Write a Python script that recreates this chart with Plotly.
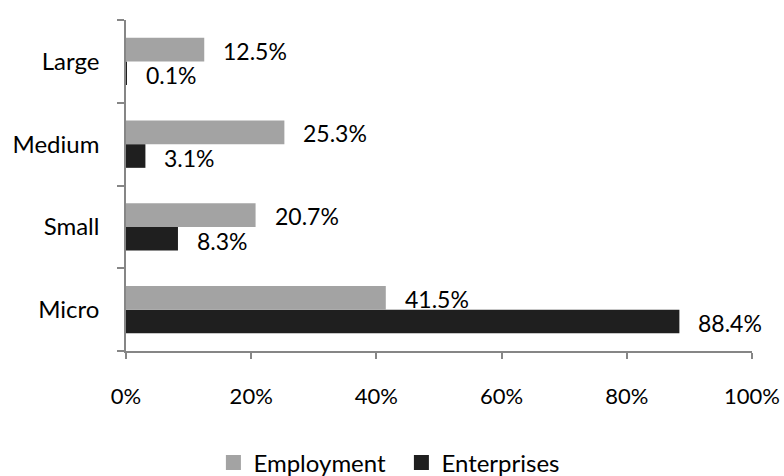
import plotly.graph_objects as go

categories = ["Micro", "Small", "Medium", "Large"]
employment = [41.5, 20.7, 25.3, 12.5]
enterprises = [88.4, 8.3, 3.1, 0.1]
x_ticks = [0, 20, 40, 60, 80, 100]
x_tick_labels = ["0%", "20%", "40%", "60%", "80%", "100%"]

FONT = "Lato, 'Open Sans', sans-serif"
AXIS_COLOR = "#868686"
EMP_COLOR = "#a3a3a3"
ENT_COLOR = "#1f1f1f"

fig = go.Figure()
fig.add_trace(go.Bar(
    y=categories, x=enterprises, orientation="h", name="Enterprises",
    marker=dict(color=ENT_COLOR, line=dict(width=0)), showlegend=False,
))
fig.add_trace(go.Bar(
    y=categories, x=employment, orientation="h", name="Employment",
    marker=dict(color=EMP_COLOR, line=dict(width=0)), showlegend=False,
))
# legend entries with larger square symbols
for name, col in (("Employment", EMP_COLOR), ("Enterprises", ENT_COLOR)):
    fig.add_trace(go.Scatter(
        x=[None], y=[None], mode="markers", name=name,
        marker=dict(symbol="square", size=15, color=col), showlegend=True,
    ))

# value labels
annotations = []
for vals, off, ysh in ((employment, 0.2133, -7), (enterprises, -0.2133, 4)):
    for cat_i, v in enumerate(vals):
        annotations.append(dict(
            x=v, y=cat_i + off, xref="x", yref="y",
            text=f"{v:.1f}%", showarrow=False, xanchor="left", yanchor="middle",
            xshift=17, yshift=ysh, font=dict(family=FONT, size=23, color="#000000"),
        ))

fig.update_layout(
    width=784, height=476,
    margin=dict(l=126, r=32, t=20, b=125, autoexpand=False),
    paper_bgcolor="white", plot_bgcolor="white",
    barmode="group", bargap=0.427, bargroupgap=0,
    font=dict(family=FONT, size=24, color="#000000"),
    annotations=annotations,
    showlegend=True,
    legend=dict(orientation="h", xref="container", x=0.512, xanchor="center",
                y=-0.338, yanchor="middle", entrywidth=143, entrywidthmode="pixels",
                font=dict(family=FONT, size=24), itemsizing="trace", traceorder="normal"),
    xaxis=dict(range=[0, 100], tickvals=x_ticks, ticktext=x_tick_labels,
               tickfont=dict(size=22),
               showgrid=False, zeroline=False, showline=True, linecolor=AXIS_COLOR,
               linewidth=1.5, ticks="outside", ticklen=6, tickcolor=AXIS_COLOR,
               tickwidth=1.5, ticklabelstandoff=19, fixedrange=True, automargin=False),
    yaxis=dict(type="category", categoryorder="array", categoryarray=categories,
               range=[-0.5, 3.5], showgrid=False, zeroline=False, showline=True,
               linecolor=AXIS_COLOR, linewidth=1.5, ticks="outside", ticklen=7,
               tickcolor=AXIS_COLOR, tickwidth=1.5, tickson="boundaries",
               ticklabelstandoff=20, fixedrange=True, automargin=False),
)

fig.write_html(
    "out.html",
    config={"displayModeBar": False},
    post_script="document.body.style.margin='0';document.body.style.overflow='hidden';",
)
